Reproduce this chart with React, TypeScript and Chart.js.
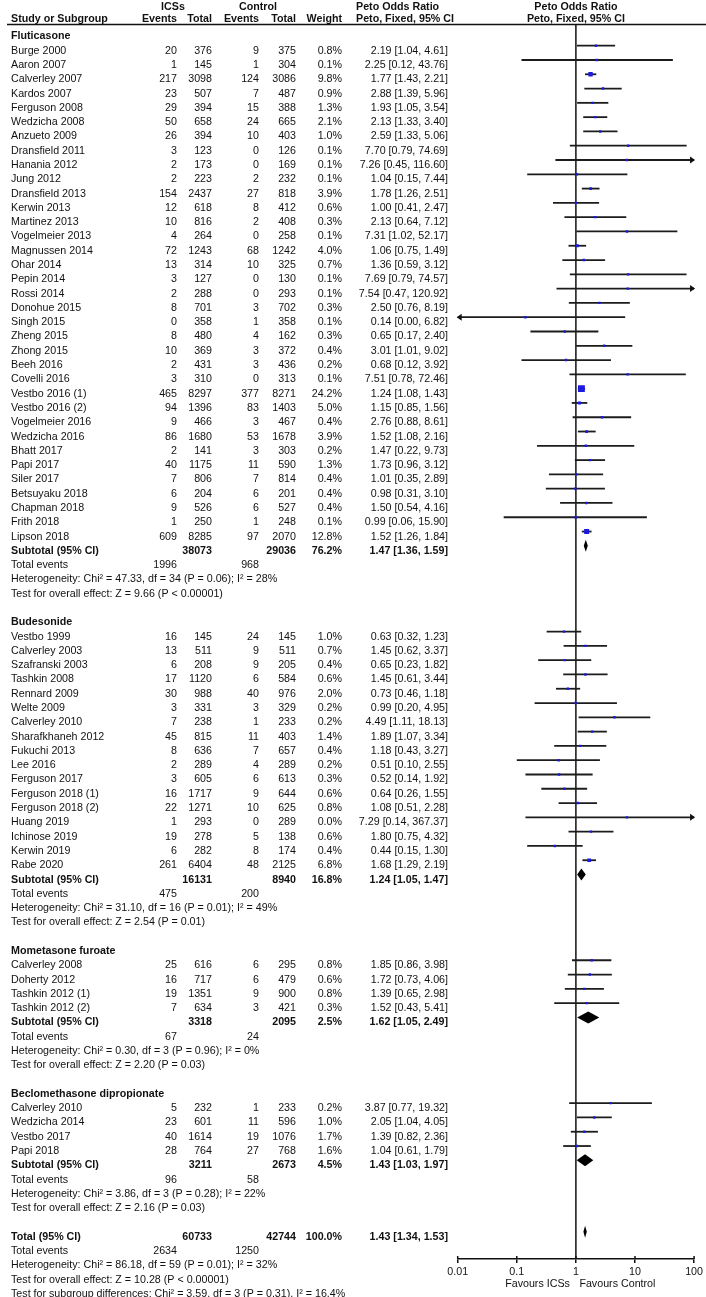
import React, { useEffect, useRef } from 'react';
import { Chart, registerables } from 'chart.js';
Chart.register(...registerables);

// [study, ICS events, ICS total, control events, control total, weight %, OR, lower, upper]
type Row = [string, number, number, number, number, number, number, number, number];

const fluticasoneRows: Row[] = [
  ['Burge 2000', 20, 376, 9, 375, 0.8, 2.19, 1.04, 4.61],
  ['Aaron 2007', 1, 145, 1, 304, 0.1, 2.25, 0.12, 43.76],
  ['Calverley 2007', 217, 3098, 124, 3086, 9.8, 1.77, 1.43, 2.21],
  ['Kardos 2007', 23, 507, 7, 487, 0.9, 2.88, 1.39, 5.96],
  ['Ferguson 2008', 29, 394, 15, 388, 1.3, 1.93, 1.05, 3.54],
  ['Wedzicha 2008', 50, 658, 24, 665, 2.1, 2.13, 1.33, 3.40],
  ['Anzueto 2009', 26, 394, 10, 403, 1.0, 2.59, 1.33, 5.06],
  ['Dransfield 2011', 3, 123, 0, 126, 0.1, 7.70, 0.79, 74.69],
  ['Hanania 2012', 2, 173, 0, 169, 0.1, 7.26, 0.45, 116.60],
  ['Jung 2012', 2, 223, 2, 232, 0.1, 1.04, 0.15, 7.44],
  ['Dransfield 2013', 154, 2437, 27, 818, 3.9, 1.78, 1.26, 2.51],
  ['Kerwin 2013', 12, 618, 8, 412, 0.6, 1.00, 0.41, 2.47],
  ['Martinez 2013', 10, 816, 2, 408, 0.3, 2.13, 0.64, 7.12],
  ['Vogelmeier 2013', 4, 264, 0, 258, 0.1, 7.31, 1.02, 52.17],
  ['Magnussen 2014', 72, 1243, 68, 1242, 4.0, 1.06, 0.75, 1.49],
  ['Ohar 2014', 13, 314, 10, 325, 0.7, 1.36, 0.59, 3.12],
  ['Pepin 2014', 3, 127, 0, 130, 0.1, 7.69, 0.79, 74.57],
  ['Rossi 2014', 2, 288, 0, 293, 0.1, 7.54, 0.47, 120.92],
  ['Donohue 2015', 8, 701, 3, 702, 0.3, 2.50, 0.76, 8.19],
  ['Singh 2015', 0, 358, 1, 358, 0.1, 0.14, 0.00, 6.82],
  ['Zheng 2015', 8, 480, 4, 162, 0.3, 0.65, 0.17, 2.40],
  ['Zhong 2015', 10, 369, 3, 372, 0.4, 3.01, 1.01, 9.02],
  ['Beeh 2016', 2, 431, 3, 436, 0.2, 0.68, 0.12, 3.92],
  ['Covelli 2016', 3, 310, 0, 313, 0.1, 7.51, 0.78, 72.46],
  ['Vestbo 2016 (1)', 465, 8297, 377, 8271, 24.2, 1.24, 1.08, 1.43],
  ['Vestbo 2016 (2)', 94, 1396, 83, 1403, 5.0, 1.15, 0.85, 1.56],
  ['Vogelmeier 2016', 9, 466, 3, 467, 0.4, 2.76, 0.88, 8.61],
  ['Wedzicha 2016', 86, 1680, 53, 1678, 3.9, 1.52, 1.08, 2.16],
  ['Bhatt 2017', 2, 141, 3, 303, 0.2, 1.47, 0.22, 9.73],
  ['Papi 2017', 40, 1175, 11, 590, 1.3, 1.73, 0.96, 3.12],
  ['Siler 2017', 7, 806, 7, 814, 0.4, 1.01, 0.35, 2.89],
  ['Betsuyaku 2018', 6, 204, 6, 201, 0.4, 0.98, 0.31, 3.10],
  ['Chapman 2018', 9, 526, 6, 527, 0.4, 1.50, 0.54, 4.16],
  ['Frith 2018', 1, 250, 1, 248, 0.1, 0.99, 0.06, 15.90],
  ['Lipson 2018', 609, 8285, 97, 2070, 12.8, 1.52, 1.26, 1.84],
];

const budesonideRows: Row[] = [
  ['Vestbo 1999', 16, 145, 24, 145, 1.0, 0.63, 0.32, 1.23],
  ['Calverley 2003', 13, 511, 9, 511, 0.7, 1.45, 0.62, 3.37],
  ['Szafranski 2003', 6, 208, 9, 205, 0.4, 0.65, 0.23, 1.82],
  ['Tashkin 2008', 17, 1120, 6, 584, 0.6, 1.45, 0.61, 3.44],
  ['Rennard 2009', 30, 988, 40, 976, 2.0, 0.73, 0.46, 1.18],
  ['Welte 2009', 3, 331, 3, 329, 0.2, 0.99, 0.20, 4.95],
  ['Calverley 2010', 7, 238, 1, 233, 0.2, 4.49, 1.11, 18.13],
  ['Sharafkhaneh 2012', 45, 815, 11, 403, 1.4, 1.89, 1.07, 3.34],
  ['Fukuchi 2013', 8, 636, 7, 657, 0.4, 1.18, 0.43, 3.27],
  ['Lee 2016', 2, 289, 4, 289, 0.2, 0.51, 0.10, 2.55],
  ['Ferguson 2017', 3, 605, 6, 613, 0.3, 0.52, 0.14, 1.92],
  ['Ferguson 2018 (1)', 16, 1717, 9, 644, 0.6, 0.64, 0.26, 1.55],
  ['Ferguson 2018 (2)', 22, 1271, 10, 625, 0.8, 1.08, 0.51, 2.28],
  ['Huang 2019', 1, 293, 0, 289, 0.0, 7.29, 0.14, 367.37],
  ['Ichinose 2019', 19, 278, 5, 138, 0.6, 1.80, 0.75, 4.32],
  ['Kerwin 2019', 6, 282, 8, 174, 0.4, 0.44, 0.15, 1.30],
  ['Rabe 2020', 261, 6404, 48, 2125, 6.8, 1.68, 1.29, 2.19],
];

const mometasoneRows: Row[] = [
  ['Calverley 2008', 25, 616, 6, 295, 0.8, 1.85, 0.86, 3.98],
  ['Doherty 2012', 16, 717, 6, 479, 0.6, 1.72, 0.73, 4.06],
  ['Tashkin 2012 (1)', 19, 1351, 9, 900, 0.8, 1.39, 0.65, 2.98],
  ['Tashkin 2012 (2)', 7, 634, 3, 421, 0.3, 1.52, 0.43, 5.41],
];

const beclomethasoneRows: Row[] = [
  ['Calverley 2010', 5, 232, 1, 233, 0.2, 3.87, 0.77, 19.32],
  ['Wedzicha 2014', 23, 601, 11, 596, 1.0, 2.05, 1.04, 4.05],
  ['Vestbo 2017', 40, 1614, 19, 1076, 1.7, 1.39, 0.82, 2.36],
  ['Papi 2018', 28, 764, 27, 768, 1.6, 1.04, 0.61, 1.79],
];

const groupNames = ['Fluticasone', 'Budesonide', 'Mometasone furoate', 'Beclomethasone dipropionate'];
// [ICS total, control total, weight %, OR, lower, upper]
const subtotalValues = [
  [38073, 29036, 76.2, 1.47, 1.36, 1.59],
  [16131, 8940, 16.8, 1.24, 1.05, 1.47],
  [3318, 2095, 2.5, 1.62, 1.05, 2.49],
  [3211, 2673, 4.5, 1.43, 1.03, 1.97],
];
const subtotalEvents = [[1996, 968], [475, 200], [67, 24], [96, 58]];
const heterogeneityNotes = [
  'Heterogeneity: Chi² = 47.33, df = 34 (P = 0.06); I² = 28%',
  'Heterogeneity: Chi² = 31.10, df = 16 (P = 0.01); I² = 49%',
  'Heterogeneity: Chi² = 0.30, df = 3 (P = 0.96); I² = 0%',
  'Heterogeneity: Chi² = 3.86, df = 3 (P = 0.28); I² = 22%',
];
const overallEffectNotes = [
  'Test for overall effect: Z = 9.66 (P < 0.00001)',
  'Test for overall effect: Z = 2.54 (P = 0.01)',
  'Test for overall effect: Z = 2.20 (P = 0.03)',
  'Test for overall effect: Z = 2.16 (P = 0.03)',
];
const totalValues = [60733, 42744, 100.0, 1.43, 1.34, 1.53];
const totalEvents = [2634, 1250];
const totalNotes = [
  'Heterogeneity: Chi² = 86.18, df = 59 (P = 0.01); I² = 32%',
  'Test for overall effect: Z = 10.28 (P < 0.00001)',
  'Test for subgroup differences: Chi² = 3.59, df = 3 (P = 0.31), I² = 16.4%',
];
const axisTicks = [0.01, 0.1, 1, 10, 100];
const axisTickLabels = ['0.01', '0.1', '1', '10', '100'];

const FONT = '"Liberation Sans", Arial, sans-serif';
const FS = 10.7;

type TextItem = { row: number; x: number; text: string; align: CanvasTextAlign; bold: boolean };
type Mark = { row: number; or: number; lo: number; hi: number; w: number };

const COL = { name: 11, icsE: 177, icsT: 212, ctlE: 259, ctlT: 296, wt: 342, ci: 448 };
const fmtCI = (o: number, l: number, h: number) => `${o.toFixed(2)} [${l.toFixed(2)}, ${h.toFixed(2)}]`;

const texts: TextItem[] = [];
const studies: Mark[] = [];
const diamonds: Mark[] = [];
(() => {
  const groups = [fluticasoneRows, budesonideRows, mometasoneRows, beclomethasoneRows];
  let r = 0;
  const t = (row: number, x: number, text: string, align: CanvasTextAlign = 'right', bold = false) =>
    texts.push({ row, x, text, align, bold });
  groups.forEach((rows, g) => {
    t(r, COL.name, groupNames[g], 'left', true);
    rows.forEach((s, i) => {
      const row = r + 1 + i;
      t(row, COL.name, s[0], 'left');
      t(row, COL.icsE, String(s[1]));
      t(row, COL.icsT, String(s[2]));
      t(row, COL.ctlE, String(s[3]));
      t(row, COL.ctlT, String(s[4]));
      t(row, COL.wt, s[5].toFixed(1) + '%');
      t(row, COL.ci, fmtCI(s[6], s[7], s[8]));
      studies.push({ row, or: s[6], lo: s[7], hi: s[8], w: s[5] });
    });
    const sr = r + rows.length + 1;
    const sv = subtotalValues[g];
    t(sr, COL.name, 'Subtotal (95% CI)', 'left', true);
    t(sr, COL.icsT, String(sv[0]), 'right', true);
    t(sr, COL.ctlT, String(sv[1]), 'right', true);
    t(sr, COL.wt, sv[2].toFixed(1) + '%', 'right', true);
    t(sr, COL.ci, fmtCI(sv[3], sv[4], sv[5]), 'right', true);
    diamonds.push({ row: sr, or: sv[3], lo: sv[4], hi: sv[5], w: sv[2] });
    t(sr + 1, COL.name, 'Total events', 'left');
    t(sr + 1, COL.icsE, String(subtotalEvents[g][0]));
    t(sr + 1, COL.ctlE, String(subtotalEvents[g][1]));
    t(sr + 2, COL.name, heterogeneityNotes[g], 'left');
    t(sr + 3, COL.name, overallEffectNotes[g], 'left');
    r = sr + 5;
  });
  t(r, COL.name, 'Total (95% CI)', 'left', true);
  t(r, COL.icsT, String(totalValues[0]), 'right', true);
  t(r, COL.ctlT, String(totalValues[1]), 'right', true);
  t(r, COL.wt, totalValues[2].toFixed(1) + '%', 'right', true);
  t(r, COL.ci, fmtCI(totalValues[3], totalValues[4], totalValues[5]), 'right', true);
  diamonds.push({ row: r, or: totalValues[3], lo: totalValues[4], hi: totalValues[5], w: 100 });
  t(r + 1, COL.name, 'Total events', 'left');
  t(r + 1, COL.icsE, String(totalEvents[0]));
  t(r + 1, COL.ctlE, String(totalEvents[1]));
  totalNotes.forEach((n, i) => t(r + 2 + i, COL.name, n, 'left'));
})();

const INK = '#111';

const forestPlugin = {
  id: 'forest',
  beforeDatasetsDraw(chart: any) {
    const { ctx, chartArea, scales } = chart;
    const x = scales.x, y = scales.y;
    ctx.save();
    ctx.strokeStyle = INK;
    // header rule
    ctx.lineWidth = 1.3;
    ctx.beginPath();
    ctx.moveTo(7, chartArea.top);
    ctx.lineTo(706, chartArea.top);
    ctx.stroke();
    // line of no effect
    const x1 = x.getPixelForValue(1);
    ctx.lineWidth = 1.5;
    ctx.beginPath();
    ctx.moveTo(x1, chartArea.top);
    ctx.lineTo(x1, chartArea.bottom);
    ctx.stroke();
    // upward tick marks
    axisTicks.forEach((v) => {
      const px = x.getPixelForValue(v);
      ctx.beginPath();
      ctx.moveTo(px, chartArea.bottom - 3);
      ctx.lineTo(px, chartArea.bottom);
      ctx.stroke();
    });
    // confidence intervals
    ctx.fillStyle = INK;
    ctx.lineWidth = 1.8;
    ctx.strokeStyle = '#1c1c1c';
    studies.forEach((s) => {
      const py = y.getPixelForValue(s.row);
      const loC = s.lo < x.min, hiC = s.hi > x.max;
      const a = x.getPixelForValue(loC ? x.min : s.lo);
      const b = x.getPixelForValue(hiC ? x.max : s.hi);
      ctx.beginPath();
      ctx.moveTo(a, py);
      ctx.lineTo(b, py);
      ctx.stroke();
      if (hiC) {
        ctx.beginPath();
        ctx.moveTo(b + 1, py);
        ctx.lineTo(b - 4, py - 3.5);
        ctx.lineTo(b - 4, py + 3.5);
        ctx.closePath();
        ctx.fill();
      }
      if (loC) {
        ctx.beginPath();
        ctx.moveTo(a - 1, py);
        ctx.lineTo(a + 4, py - 3.5);
        ctx.lineTo(a + 4, py + 3.5);
        ctx.closePath();
        ctx.fill();
      }
    });
    // pooled diamonds
    ctx.fillStyle = '#000';
    diamonds.forEach((d) => {
      const py = y.getPixelForValue(d.row);
      const a = x.getPixelForValue(d.lo), b = x.getPixelForValue(d.hi), m = x.getPixelForValue(d.or);
      ctx.beginPath();
      ctx.moveTo(a, py);
      ctx.lineTo(m, py - 6);
      ctx.lineTo(b, py);
      ctx.lineTo(m, py + 6);
      ctx.closePath();
      ctx.fill();
    });
    ctx.restore();
  },
  afterDraw(chart: any) {
    const { ctx, scales } = chart;
    const y = scales.y, x = scales.x;
    ctx.save();
    ctx.fillStyle = INK;
    ctx.textBaseline = 'alphabetic';
    const put = (text: string, px: number, py: number, align: CanvasTextAlign, bold: boolean) => {
      ctx.font = `${bold ? 'bold ' : ''}${FS}px ${FONT}`;
      ctx.textAlign = align;
      ctx.fillText(text, px, py);
    };
    // headers
    put('ICSs', 173, 9.5, 'center', true);
    put('Control', 258, 9.5, 'center', true);
    put('Peto Odds Ratio', 356, 9.5, 'left', true);
    put('Study or Subgroup', COL.name, 22, 'left', true);
    put('Events', COL.icsE, 22, 'right', true);
    put('Total', COL.icsT, 22, 'right', true);
    put('Events', COL.ctlE, 22, 'right', true);
    put('Total', COL.ctlT, 22, 'right', true);
    put('Weight', COL.wt, 22, 'right', true);
    put('Peto, Fixed, 95% CI', 356, 22, 'left', true);
    const xc = x.getPixelForValue(1);
    put('Peto Odds Ratio', xc, 9.5, 'center', true);
    put('Peto, Fixed, 95% CI', xc, 22, 'center', true);
    // table body
    texts.forEach((t) => put(t.text, t.x, y.getPixelForValue(t.row) + 8, t.align, t.bold));
    // favours labels
    put('Favours ICSs', xc - 6, 1287, 'right', false);
    put('Favours Control', xc + 3.5, 1287, 'left', false);
    ctx.restore();
  },
};

export default function App() {
  const ref = useRef<HTMLCanvasElement | null>(null);
  useEffect(() => {
    if (!ref.current) return;
    const sizes = studies.map((s) => Math.max(2.4, 1.4 * Math.sqrt(s.w)));
    const chart = new Chart(ref.current, {
      type: 'scatter',
      data: {
        datasets: [
          {
            data: studies.map((s) => ({ x: s.or, y: s.row })),
            pointStyle: 'rect',
            pointRadius: sizes.map((s) => s / Math.SQRT2),
            pointHoverRadius: sizes.map((s) => s / Math.SQRT2),
            backgroundColor: '#1a1ae0',
            borderWidth: 0,
          },
        ],
      },
      options: {
        animation: false,
        responsive: false,
        devicePixelRatio: 1,
        events: [],
        layout: { padding: { left: 457.7, right: 11.7, top: 24.5, bottom: 0 } },
        plugins: { legend: { display: false }, tooltip: { enabled: false } },
        scales: {
          x: {
            type: 'logarithmic',
            position: 'bottom',
            min: 0.01,
            max: 100,
            afterBuildTicks: (s: any) => {
              s.ticks = axisTicks.map((v) => ({ value: v }));
            },
            afterFit: (s: any) => {
              s.height = 38;
            },
            ticks: {
              autoSkip: false,
              maxRotation: 0,
              padding: 3,
              color: INK,
              font: { family: FONT, size: FS },
              callback: (_v: any, i: number) => axisTickLabels[i],
            },
            grid: { drawOnChartArea: false, drawTicks: true, tickLength: 4, color: INK, lineWidth: 1.5 },
            border: { display: true, color: INK, width: 1.5 },
          },
          y: { type: 'linear', min: -0.483, max: 85.906, reverse: true, display: false },
        },
      } as any,
      plugins: [forestPlugin],
    });
    return () => chart.destroy();
  }, []);
  return (
    <div style={{ position: 'absolute', left: 0, top: 0, width: 706, height: 1297, background: '#fff' }}>
      <canvas ref={ref} width={706} height={1297} style={{ width: 706, height: 1297, display: 'block' }} />
    </div>
  );
}
